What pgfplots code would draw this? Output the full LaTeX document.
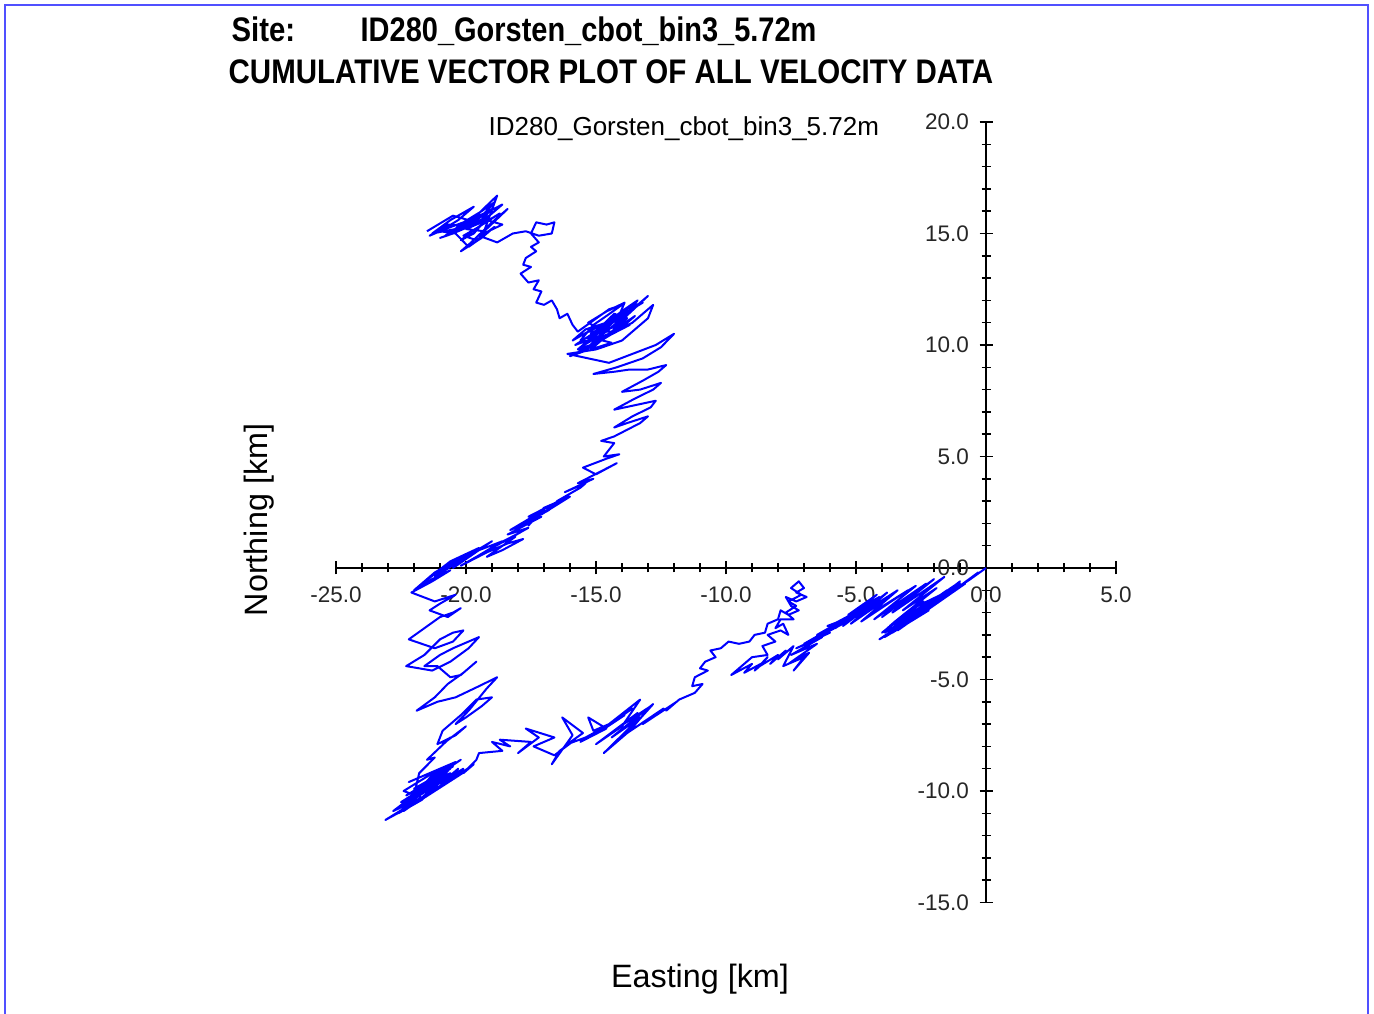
\documentclass[border=0pt]{standalone}
\usepackage{pgfplots}
\pgfplotsset{compat=1.18}
\usepackage{fontspec}
\setmainfont{Liberation Sans}
\definecolor{frameblue}{RGB}{80,80,255}
\definecolor{trackblue}{RGB}{0,0,255}

\begin{document}
\begin{tikzpicture}
% frame round the page
\draw[frameblue, line width=0.15mm] (-98.1mm,-44.6mm) -- (-98.1mm,56.3mm) -- (38.2mm,56.3mm) -- (38.2mm,-44.6mm);

\begin{axis}[
  anchor=origin, at={(0,0)},
  x=2.6mm, y=2.23mm,
  xmin=-25, xmax=5, ymin=-15, ymax=20,
  axis lines=middle,
  axis line style={-, line width=0.2mm, black},
  hide obscured x ticks=false, hide obscured y ticks=false,
  xtick={-25,-20,-15,-10,-5,0,5},
  xticklabels={-25.0,-20.0,-15.0,-10.0,-5.0,0.0,5.0},
  ytick={-15,-10,-5,0,5,10,15,20},
  yticklabels={-15.0,-10.0,-5.0,0.0,5.0,10.0,15.0,20.0},
  minor x tick num=4, minor y tick num=4,
  tick align=center,
  major tick length=1.3mm, minor tick length=0.9mm,
  every tick/.style={black, line width=0.15mm},
  ticklabel style={font=\fontsize{6.4}{7}\selectfont, text=black!85},
  xticklabel style={anchor=north, inner sep=0pt, yshift=-1.2mm},
  yticklabel style={anchor=east, inner sep=0pt, xshift=-1.0mm},
  clip=false,
]
\addplot[trackblue, line width=0.2mm, line join=round] coordinates {
(0,0) (-0.6,-0.5) (-0.3,-0.2) (-1.0,-0.8) (-0.6,-0.5) (-1.5,-1.2) (-1.0,-0.7)
(-2.0,-1.6) (-1.3,-1.0) (-2.5,-2.0) (-1.7,-1.3) (-2.9,-2.3) (-2.0,-1.5) (-3.3,-2.6)
(-2.3,-1.8) (-3.7,-2.9) (-2.6,-2.0) (-4.1,-3.2) (-3.1,-2.5) (-3.9,-3.1) (-2.2,-1.9)
(-3.6,-2.9) (-1.7,-1.4) (-3.4,-2.8) (-1.4,-1.0) (-3.0,-2.4) (-1.0,-0.6) (-2.7,-2.2)
(-1.5,-1.0) (-3.2,-2.4) (-1.9,-1.3) (-3.8,-2.7) (-2.4,-1.5) (-4.0,-2.9) (-2.8,-1.8)
(-1.2,-0.9) (-2.4,-2.0) (-0.8,-0.7) (-2.1,-1.7) (-1.1,-0.7) (-3.0,-2.2) (-1.8,-1.5)
(-3.4,-2.7) (-2.1,-1.6) (-3.9,-2.9) (-2.9,-2.2) (-3.7,-2.6)
(-3.5,-2.4) (-1.9,-0.9) (-3.2,-1.9) (-1.6,-0.4) (-3.6,-2.0) (-2.0,-0.5) (-4.0,-2.2)
(-2.3,-0.7) (-4.3,-2.3) (-2.7,-0.8) (-4.5,-2.1) (-3.0,-1.0) (-4.8,-2.4) (-3.4,-1.0)
(-5.0,-2.2) (-3.6,-1.2) (-5.2,-2.5) (-3.8,-1.1) (-5.5,-2.6) (-4.1,-1.3) (-5.3,-2.1)
(-4.2,-1.2) (-5.8,-2.7) (-4.4,-1.6) (-6.0,-2.6) (-4.7,-1.8) (-6.2,-2.9) (-5.0,-2.0)
(-6.5,-3.0) (-5.2,-2.2) (-6.1,-2.6) (-5.5,-2.5) (-6.8,-3.3) (-5.8,-2.6) (-7.0,-3.4)
(-6.0,-2.9) (-7.3,-3.6) (-6.3,-3.1) (-7.5,-3.9) (-6.5,-3.4) (-7.6,-4.3) (-6.8,-3.8)
(-7.4,-4.6) (-7.0,-4.0) (-7.8,-4.4) (-7.4,-3.5) (-8.0,-4.1) (-7.7,-3.7) (-8.3,-4.3)
(-8.0,-3.9) (-8.7,-4.4) (-8.4,-4.0) (-8.9,-4.6) (-8.5,-4.2) (-9.3,-4.7) (-9.0,-4.3)
(-9.8,-4.8)
(-9.3,-4.3) (-9.0,-4.0) (-8.4,-3.9) (-8.6,-3.5) (-8.1,-3.3) (-8.4,-3.0) (-7.9,-2.8)
(-7.6,-3.0) (-7.8,-2.5) (-8.1,-2.7) (-7.9,-2.3) (-7.4,-2.3) (-7.7,-2.0) (-7.3,-1.7)
(-7.6,-1.5) (-7.1,-1.2) (-7.5,-0.9) (-7.2,-0.6) (-7.0,-0.9) (-7.3,-1.1) (-6.9,-1.3)
(-7.3,-1.5) (-7.7,-1.3) (-7.5,-1.7) (-7.2,-1.9) (-7.6,-2.1) (-7.9,-1.9)
(-8.0,-2.3) (-8.4,-2.5) (-8.5,-2.9) (-8.9,-3.0) (-9.1,-3.3) (-9.5,-3.4)
(-9.9,-3.3) (-10.2,-3.6) (-10.6,-3.7) (-10.4,-4.0) (-10.8,-4.2) (-11.0,-4.5)
(-10.7,-4.6) (-11.2,-4.9) (-11.3,-5.3) (-10.9,-5.2) (-11.2,-5.6) (-11.8,-5.9)
(-12.3,-6.4) (-11.9,-6.0) (-13.2,-7.0) (-12.4,-6.3) (-13.8,-7.4) (-12.8,-6.1)
(-14.4,-7.6) (-13.3,-6.7) (-14.7,-8.3) (-13.7,-7.3) (-12.9,-6.2) (-14.2,-7.2)
(-13.4,-6.5) (-15.0,-7.9) (-14.0,-7.1) (-13.3,-5.9) (-14.5,-7.0) (-13.6,-6.3)
(-14.8,-7.3) (-13.9,-6.6) (-15.6,-7.8) (-14.6,-7.2) (-15.3,-6.7) (-15.1,-7.3)
(-14.3,-6.9) (-15.4,-7.6) (-16.1,-7.9) (-15.5,-7.4) (-16.3,-6.7) (-15.9,-7.5)
(-16.7,-8.8) (-16.4,-8.2) (-15.8,-7.7) (-16.6,-8.4)
(-17.4,-8.0) (-16.6,-7.6) (-17.7,-7.2) (-17.2,-7.6) (-18.0,-8.3) (-17.5,-7.8)
(-18.7,-7.7) (-18.3,-8.0) (-19.0,-7.8) (-18.6,-8.2) (-19.5,-8.3) (-19.6,-8.6)
(-20.1,-9.2) (-19.7,-8.8) (-20.8,-9.7) (-20.0,-9.1) (-21.5,-10.2) (-20.4,-9.4)
(-22.0,-10.6) (-20.9,-9.7) (-22.4,-10.9) (-21.3,-10.0) (-23.1,-11.3) (-22.0,-10.6)
(-21.2,-9.8) (-22.5,-10.5) (-21.0,-9.4) (-22.3,-10.2) (-20.6,-9.0) (-22.0,-9.9)
(-20.5,-8.9) (-21.8,-9.8) (-20.2,-8.6) (-21.6,-9.7) (-22.6,-10.8) (-21.0,-9.5)
(-20.4,-8.7) (-21.4,-9.2) (-22.2,-9.6) (-21.0,-9.0) (-22.4,-10.0) (-21.7,-10.3)
(-22.8,-10.9) (-21.9,-10.1) (-20.8,-9.2) (-21.5,-9.9) (-20.3,-9.3) (-21.2,-10.0)
(-20.1,-9.0) (-21.1,-9.7) (-22.1,-10.4)
(-21.3,-9.6) (-20.6,-9.2) (-21.4,-9.9) (-22.3,-10.6) (-21.6,-10.0) (-20.9,-9.5)
(-21.7,-10.4) (-22.6,-11.0) (-21.9,-10.5) (-21.0,-9.8) (-20.3,-9.0) (-20.9,-9.6)
(-21.8,-10.0) (-21.2,-9.5) (-20.5,-8.8) (-21.3,-9.3) (-22.0,-10.2)
(-21.8,-9.2) (-21.2,-8.5) (-21.5,-8.6) (-20.6,-7.6) (-20.9,-7.9) (-20.0,-7.1)
(-20.4,-7.5) (-21.1,-7.9) (-20.9,-7.3) (-20.2,-6.6) (-19.6,-5.9) (-19.0,-5.8)
(-19.4,-6.2) (-20.0,-6.7) (-20.4,-7.0) (-19.9,-6.4) (-19.2,-5.4) (-18.8,-4.9)
(-19.5,-5.3) (-20.4,-5.8) (-21.1,-6.0) (-21.9,-6.4) (-21.2,-5.8) (-20.7,-5.2)
(-20.1,-4.7) (-19.6,-4.2) (-20.2,-4.8) (-20.6,-4.9) (-21.1,-4.4) (-21.6,-4.4)
(-21.0,-3.9) (-20.5,-3.6) (-19.5,-3.1) (-19.9,-3.6) (-20.6,-4.2) (-21.3,-4.6)
(-22.3,-4.4) (-21.6,-3.9) (-21.0,-3.2) (-20.5,-2.9) (-20.1,-2.8) (-20.5,-3.3)
(-21.2,-3.6) (-22.2,-3.2) (-21.6,-2.7) (-21.0,-2.2) (-20.5,-2.0) (-20.2,-1.8)
(-20.7,-2.2) (-21.4,-1.9) (-21.0,-1.6) (-20.4,-1.2) (-21.2,-1.5) (-22.1,-1.1)
(-21.3,-0.6) (-20.6,-0.1) (-21.3,-0.5) (-22.0,-1.0) (-21.2,-0.2) (-20.2,0.5)
(-21.0,-0.1) (-21.7,-0.7) (-20.6,0.3) (-19.5,0.9) (-20.4,0.3) (-21.2,-0.4)
(-20.0,0.5) (-19.0,1.2) (-19.8,0.6) (-20.5,0.0) (-19.5,0.8) (-18.6,1.2)
(-19.6,0.5) (-20.2,0.1) (-19.2,0.7) (-18.4,1.1) (-17.8,1.3) (-18.6,0.8) (-19.2,0.5)
(-18.1,1.4) (-18.9,1.0) (-17.9,1.6) (-19.0,0.9) (-17.6,1.8) (-18.4,1.5) (-17.1,2.3)
(-17.8,2.0) (-16.8,2.6) (-17.4,2.4) (-16.4,3.0) (-17.0,2.7) (-17.6,1.9)
(-17.5,2.1) (-18.3,1.7) (-17.0,2.6) (-17.6,2.3)
(-16.6,2.9) (-16.3,3.1) (-17.1,2.4) (-16.0,3.2) (-16.5,3.0) (-15.6,3.6)
(-15.4,3.8) (-16.2,3.4) (-15.1,4.0) (-15.7,3.8) (-14.7,4.4) (-14.2,4.7)
(-15.0,4.2) (-15.5,4.5) (-14.6,4.9) (-14.1,5.1) (-14.7,5.0) (-14.3,5.6) (-14.8,5.7)
(-14.3,5.9) (-13.3,6.5) (-13.0,6.8) (-13.8,6.5) (-14.3,6.3) (-13.6,6.8)
(-12.9,7.2) (-12.7,7.5) (-13.5,7.3) (-14.3,7.1) (-13.5,7.6) (-12.8,8.0)
(-12.5,8.3) (-13.3,8.0) (-14.0,7.9) (-13.2,8.4) (-12.6,8.8) (-12.3,9.1)
(-13.0,8.9) (-13.7,8.9) (-14.3,8.8) (-15.1,8.7) (-14.2,9.0) (-13.2,9.4)
(-12.5,9.9) (-12.0,10.5) (-12.7,10.0) (-13.6,9.6) (-14.5,9.2) (-16.1,9.6)
(-15.0,9.8) (-14.0,10.2) (-13.0,11.2) (-12.8,11.8) (-13.6,11.0) (-14.6,10.4)
(-15.3,10.3) (-14.2,10.9) (-13.0,12.2) (-13.7,11.5) (-14.9,10.6) (-15.6,9.9)
(-14.6,10.6) (-13.6,11.6) (-14.4,11.1) (-15.2,10.5) (-14.3,10.8) (-13.9,11.9)
(-14.6,11.5) (-15.3,11.0) (-15.0,10.8) (-15.6,10.4) (-14.8,10.9) (-14.1,11.3)
(-14.7,10.7) (-15.4,10.1) (-14.5,10.5) (-13.8,11.2) (-14.3,11.4) (-15.0,10.6)
(-15.8,10.0) (-15.1,10.3) (-14.4,10.1) (-15.2,9.8) (-14.7,10.3) (-13.7,10.9)
(-14.2,10.6) (-15.3,10.6) (-15.9,10.2) (-15.4,10.7)
(-14.6,11.0) (-13.9,11.6) (-13.4,12.0) (-13.8,11.4) (-14.5,10.9) (-15.1,10.4)
(-15.7,9.8) (-15.2,10.0) (-14.6,10.4) (-14.0,10.9) (-13.5,11.3) (-14.1,10.7)
(-14.8,10.2) (-15.5,9.7) (-16.0,9.5) (-15.3,9.9) (-14.7,10.6) (-14.2,11.2)
(-13.2,11.9) (-13.7,11.7) (-14.4,11.0) (-15.0,10.5) (-15.6,10.2) (-15.1,10.9)
(-14.6,11.3) (-14.0,11.8) (-14.5,11.6) (-15.1,11.1) (-15.7,10.6)
(-15.9,10.9) (-16.1,11.4) (-16.4,11.2) (-16.5,11.6) (-16.7,12.0) (-17.0,11.8)
(-17.3,11.9) (-17.1,12.4) (-17.4,12.5) (-17.2,12.9) (-17.6,12.8) (-17.9,13.2)
(-17.5,13.5) (-17.8,13.6) (-17.7,13.9) (-17.3,14.2) (-17.5,14.4) (-17.2,14.6)
(-17.5,15.0) (-17.3,15.5) (-16.9,15.4) (-16.6,15.5) (-16.7,15.0) (-17.2,14.9)
(-17.7,15.1) (-18.2,15.0)
(-18.8,14.6) (-19.5,14.9) (-18.6,15.4) (-19.2,15.6) (-20.0,15.2) (-19.3,15.1)
(-18.4,16.1) (-19.0,15.5) (-19.8,14.6) (-20.2,14.2) (-19.4,14.8) (-18.8,16.7)
(-19.6,15.8) (-20.4,15.2) (-21.3,15.0) (-20.6,15.6) (-19.7,16.2) (-20.3,15.6)
(-21.0,15.1) (-20.4,15.0) (-19.9,14.4) (-19.3,14.9) (-18.9,15.3) (-19.6,14.7)
(-20.1,14.9) (-19.5,15.3) (-18.7,15.9) (-19.4,15.4) (-20.2,14.7) (-19.7,15.0)
(-19.1,15.8) (-19.8,15.3) (-20.7,15.4) (-21.4,14.9) (-20.8,15.2) (-20.1,15.5)
(-19.4,16.0) (-18.9,16.4) (-19.3,15.9) (-20.0,15.4) (-20.8,14.9) (-20.3,15.3)
(-19.6,15.6) (-19.0,16.1) (-19.5,15.5) (-20.3,15.1) (-21.0,14.8) (-20.5,15.0)
(-19.9,15.4) (-19.2,15.7) (-18.6,16.3) (-19.1,16.0) (-19.9,15.6) (-20.5,15.8)
(-21.5,15.1)
};
\end{axis}

% titles and labels
\node[anchor=base west, inner sep=0pt, font=\fontsize{9.7}{11}\selectfont\bfseries] at (-75.5mm,52.6mm) {\scalebox{0.86}[1]{Site:}};
\node[anchor=base west, inner sep=0pt, font=\fontsize{9.7}{11}\selectfont\bfseries] at (-62.6mm,52.6mm) {\scalebox{0.85}[1]{ID280\_Gorsten\_cbot\_bin3\_5.72m}};
\node[anchor=base west, inner sep=0pt, font=\fontsize{9.7}{11}\selectfont\bfseries] at (-75.8mm,48.4mm) {\scalebox{0.865}[1]{CUMULATIVE VECTOR PLOT OF ALL VELOCITY DATA}};
\node[anchor=base west, inner sep=0pt, font=\fontsize{7.4}{9}\selectfont] at (-49.8mm,43.2mm) {ID280\_Gorsten\_cbot\_bin3\_5.72m};
\node[anchor=base, inner sep=0pt, font=\fontsize{9.2}{11}\selectfont] at (-28.6mm,-42.0mm) {Easting [km]};
\node[anchor=base, rotate=90, inner sep=0pt, font=\fontsize{9.2}{11}\selectfont] at (-71.8mm,4.8mm) {Northing [km]};

\pgfresetboundingbox
\path[use as bounding box] (-98.6mm,-44.6mm) rectangle (38.8mm,56.8mm);
\end{tikzpicture}
\end{document}
